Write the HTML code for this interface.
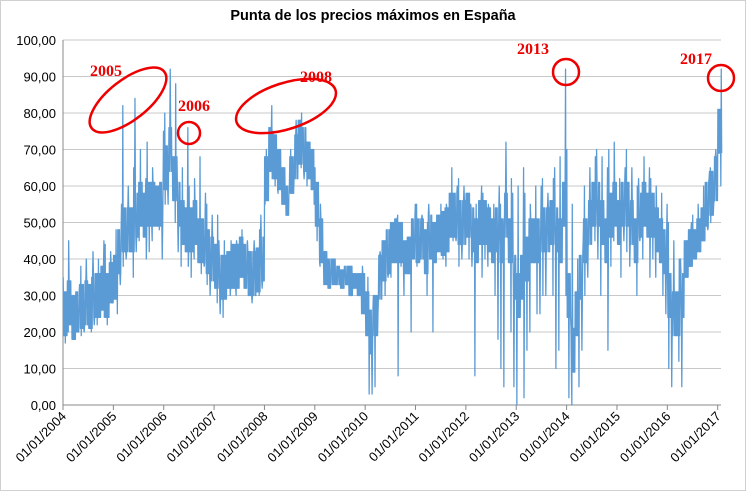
<!DOCTYPE html>
<html><head><meta charset="utf-8"><style>
body{margin:0;background:#fff}
svg{display:block;font-family:"Liberation Sans",sans-serif}
</style></head><body>
<svg id="c" width="747" height="492">
<rect x="0.5" y="0.5" width="745" height="490" fill="#fff" stroke="#d0d0d0"/>
<text x="373" y="20" text-anchor="middle" font-size="14.5" font-weight="bold" fill="#000">Punta de los precios máximos en España</text>
<g id="grid"></g><g id="yt"></g><g id="xt"></g><g id="ser"></g><g id="ann"></g>
</svg>
<script>
const yTicks=[0,10,20,30,40,50,60,70,80,90,100];
const years=[2004,2005,2006,2007,2008,2009,2010,2011,2012,2013,2014,2015,2016,2017];
// monthly peak / dip / typical estimates from Jan 2004 to Jan 2017
const monthlyHigh=[35,45,30,33,38,40,35,42,40,45,44,42,
48,55,82,60,65,84,70,62,72,65,60,75,
80,92,88,68,65,76,60,62,68,58,55,52,
52,45,45,42,45,45,48,45,42,45,48,52,
70,82,75,70,65,60,70,78,80,76,72,70,
65,55,42,40,40,38,37,38,38,36,36,38,
35,30,30,42,45,48,50,52,50,45,46,55,
55,52,50,55,50,52,55,55,65,60,62,60,
58,55,55,60,58,55,55,60,55,72,62,58,
60,65,58,55,60,60,62,58,62,65,68,92,
70,55,40,45,60,65,68,70,68,65,70,72,
62,65,70,65,60,62,68,65,62,60,58,55,
50,45,40,40,45,50,52,55,60,62,65,70,
92];
const monthlyLow=[17,20,18,20,19,20,20,22,22,24,22,28,
25,33,38,40,35,42,45,40,42,45,48,40,
55,55,50,42,38,38,35,40,36,38,33,30,
28,25,24,30,32,30,35,32,30,28,30,32,
55,62,60,58,55,52,58,62,65,62,60,55,
45,38,33,32,33,33,32,33,30,32,30,25,
3,3,5,25,30,35,35,8,38,30,20,40,
38,40,30,40,20,42,40,38,45,45,38,40,
40,38,8,35,40,38,30,18,10,5,20,5,
0,2,15,20,25,25,30,30,30,10,15,30,
2,0,5,15,30,35,45,40,30,15,38,45,
35,45,42,38,30,45,40,35,40,35,30,25,
10,5,12,5,35,38,40,42,45,48,50,55,
60];
const monthlyTypical=[25,28,24,25,27,28,27,30,30,32,30,33,
35,42,48,48,48,52,55,52,55,55,55,55,
65,70,62,55,50,48,48,50,45,45,42,40,
38,35,35,38,38,38,40,38,36,36,37,40,
62,70,68,65,60,57,62,68,72,70,68,65,
55,45,38,36,36,36,35,35,34,34,33,30,
25,20,25,35,40,42,45,45,45,42,42,45,
45,45,42,46,45,48,47,48,52,52,50,50,
52,48,45,50,50,48,45,48,45,52,45,35,
30,35,40,45,45,45,48,48,50,48,45,55,
30,15,25,35,45,50,55,55,50,45,52,55,
50,55,55,50,45,52,55,52,52,48,45,42,
30,25,25,30,40,42,42,45,48,55,58,62,
75];
const NS='http://www.w3.org/2000/svg';
const x0=63,pxYear=50.36,yb=405,pxUnit=3.65;
const X=t=>x0+t*pxYear; const Y=v=>yb-v*pxUnit;
function mk(tag,attrs,parent){const e=document.createElementNS(NS,tag);for(const k in attrs)e.setAttribute(k,attrs[k]);parent.appendChild(e);return e;}
const grid=document.getElementById('grid'),yt=document.getElementById('yt'),xt=document.getElementById('xt');
yTicks.forEach(v=>{
  const l=mk('line',{x1:X(0),x2:721,y1:Y(v),y2:Y(v),stroke:v===0?'#888':'#c8c8c8','stroke-width':1},grid);
  
  
  const t=mk('text',{x:56,y:Y(v)+5,'text-anchor':'end','font-size':13,fill:'#000'},yt);
  t.textContent=v.toFixed(2).replace('.',',');
  
  
});
const ax=mk('line',{x1:X(0),x2:X(0),y1:Y(100),y2:yb,stroke:'#888'},grid);


years.forEach((yr,i)=>{
  const x=X(i);
  const tk=mk('line',{x1:x,x2:x,y1:yb,y2:yb+5,stroke:'#888'},xt);
  
  
  const t=mk('text',{x:x+4,y:yb+12,'text-anchor':'end','font-size':13,fill:'#000',transform:'rotate(-45 '+(x+4)+' '+(yb+12)+')'},xt);
  t.textContent='01/01/'+yr;
  
  
});
let pts=[];
const steps=10;
for(let i=0;i<monthlyHigh.length;i++){
  const h=monthlyHigh[i],l=monthlyLow[i],m=monthlyTypical[i];
  const hiSlot=(i*3)%steps, loSlot=(i*7+5)%steps;
  for(let k=0;k<steps;k++){
    const t=(i+(k+0.5)/steps)/12;
    let v;
    if(k===hiSlot) v=h;
    else if(k===loSlot) v=l;
    else v=(k%2===0)?Math.min(h,m+6):Math.max(l,m-6);
    pts.push(X(t)+','+Y(v));
  }
}
const pl=mk('polyline',{points:pts.join(' '),fill:'none',stroke:'#5b9bd5','stroke-width':1.3,'stroke-linejoin':'round'},document.getElementById('ser'));


</script>
<script>
const ann=document.getElementById('ann');
const A=[
 ['ellipse',{cx:128,cy:100,rx:46,ry:20,transform:'rotate(-38 128 100)'},'2005',90,76],
 ['circle',{cx:189,cy:133,r:11},'2006',178,111],
 ['ellipse',{cx:286,cy:106,rx:52,ry:23,transform:'rotate(-18 286 106)'},'2008',300,82],
 ['circle',{cx:566,cy:72,r:13},'2013',517,54],
 ['circle',{cx:721,cy:78,r:13},'2017',680,64]
];
A.forEach(a=>{
  const s=document.createElementNS('http://www.w3.org/2000/svg',a[0]);
  for(const k in a[1])s.setAttribute(k,a[1][k]);
  s.setAttribute('fill','none');s.setAttribute('stroke','#e00');s.setAttribute('stroke-width','2.5');
  
  
  ann.appendChild(s);
  const t=document.createElementNS('http://www.w3.org/2000/svg','text');
  t.setAttribute('x',a[3]);t.setAttribute('y',a[4]);
  t.setAttribute('font-family','"Liberation Serif",serif');t.setAttribute('font-weight','bold');
  t.setAttribute('font-size','16');t.setAttribute('fill','#e00');
  t.textContent=a[2];
  
  
  ann.appendChild(t);
});
</script>
</body></html>
